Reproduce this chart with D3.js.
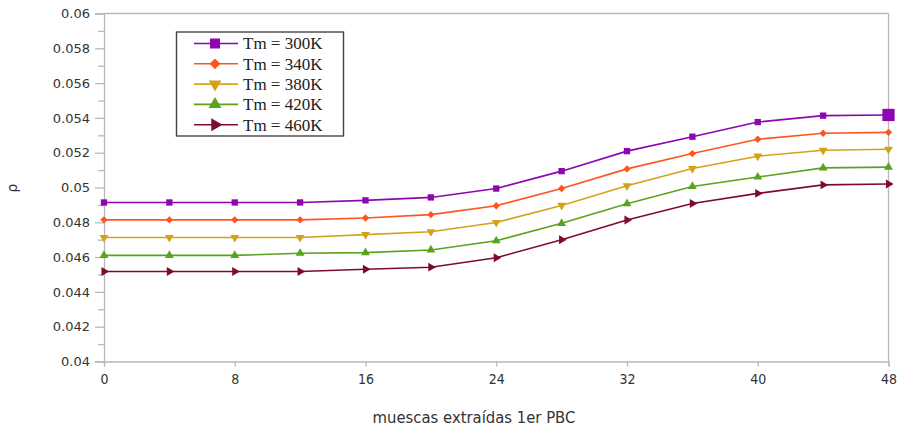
<!DOCTYPE html>
<html><head><meta charset="utf-8">
<script src="https://cdn.jsdelivr.net/npm/d3@7"></script>
<style>html,body{margin:0;padding:0;background:#fff;}svg{display:block;}</style>
</head><body>
<svg id="chart" width="900" height="430"></svg>
<script>
const xValues = [0, 4, 8, 12, 16, 20, 24, 28, 32, 36, 40, 44, 48];
const seriesNames = ["Tm = 300K", "Tm = 340K", "Tm = 380K", "Tm = 420K", "Tm = 460K"];
const tm300 = [0.04914, 0.04914, 0.04914, 0.04914, 0.04926, 0.04943, 0.04994, 0.05094, 0.05209, 0.05292, 0.05376, 0.05413, 0.05417];
const tm340 = [0.04814, 0.04814, 0.04814, 0.04814, 0.04825, 0.04844, 0.04895, 0.04994, 0.05107, 0.05195, 0.05277, 0.05312, 0.05317];
const tm380 = [0.04713, 0.04713, 0.04713, 0.04713, 0.04729, 0.04746, 0.04799, 0.04897, 0.05010, 0.05109, 0.05180, 0.05214, 0.05220];
const tm420 = [0.04610, 0.04610, 0.04610, 0.04622, 0.04626, 0.04641, 0.04694, 0.04794, 0.04907, 0.05006, 0.05060, 0.05113, 0.05117];
const tm460 = [0.04517, 0.04517, 0.04517, 0.04517, 0.04530, 0.04542, 0.04596, 0.04700, 0.04813, 0.04908, 0.04966, 0.05015, 0.05020];
const xTicks = [0, 8, 16, 24, 32, 40, 48];
const yTicks = [0.04, 0.042, 0.044, 0.046, 0.048, 0.05, 0.052, 0.054, 0.056, 0.058, 0.06];
const yTickLabels = ["0.04", "0.042", "0.044", "0.046", "0.048", "0.05", "0.052", "0.054", "0.056", "0.058", "0.06"];
const yMinorTicks = [0.041, 0.043, 0.045, 0.047, 0.049, 0.051, 0.053, 0.055, 0.057, 0.059];
const xTitle = "muescas extraídas 1er PBC";
const yTitle = "ρ";

const allSeries = [tm300, tm340, tm380, tm420, tm460];
const colors = ["#8e06b0", "#ff5422", "#d4a21a", "#5aa31c", "#7d0c2c"];
const symbols = ["square", "diamond", "down", "up", "right"];

const svg = d3.select("#chart");
const L = 104, R = 888.5, T = 13.5, B = 361.5;
const x = d3.scaleLinear().domain([0, 48]).range([L, R]);
const y = d3.scaleLinear().domain([0.04, 0.06]).range([B, T]);
const axisColor = "#b8b8b8";
const textColor = "#333";
const narrow = "'Liberation Sans Narrow', 'DejaVu Sans Condensed', sans-serif";

// frame top & right
svg.append("line").attr("x1", L).attr("x2", R).attr("y1", T).attr("y2", T).attr("stroke", axisColor).attr("stroke-width", 1.3);
svg.append("line").attr("x1", R).attr("x2", R).attr("y1", T).attr("y2", B).attr("stroke", axisColor).attr("stroke-width", 1.3);

// y axis
const yAxis = d3.axisLeft(y).tickValues(yTicks).tickSize(9).tickPadding(5)
  .tickFormat((d, i) => yTickLabels[i]);
const gy = svg.append("g").attr("transform", `translate(${L},0)`).call(yAxis);
gy.select(".domain").attr("stroke", axisColor).attr("stroke-width", 1.3);
gy.selectAll(".tick line").attr("stroke", axisColor).attr("stroke-width", 1.3);
gy.selectAll(".tick text").attr("fill", textColor).style("font-family", "DejaVu Sans").style("font-size", "13px");
const gyMinor = svg.append("g").attr("transform", `translate(${L},0)`)
  .call(d3.axisLeft(y).tickValues(yMinorTicks).tickSize(6).tickFormat(""));
gyMinor.select(".domain").remove();
gyMinor.selectAll(".tick line").attr("stroke", axisColor).attr("stroke-width", 1.3);

// x axis
const xAxis = d3.axisBottom(x).tickValues(xTicks).tickSize(5).tickPadding(8).tickFormat(d3.format("d"));
const gx = svg.append("g").attr("transform", `translate(0,${B})`).call(xAxis);
gx.select(".domain").attr("stroke", axisColor).attr("stroke-width", 1.3);
gx.selectAll(".tick line").attr("stroke", axisColor).attr("stroke-width", 1.3);
gx.selectAll(".tick text").attr("fill", textColor).style("font-family", narrow).style("font-size", "14px");

// titles
svg.append("text").attr("x", 474).attr("y", 423).attr("text-anchor", "middle")
  .attr("fill", textColor).style("font-family", narrow).style("font-size", "16.5px").text(xTitle);
svg.append("text").attr("transform", "translate(17,188) rotate(-90)").attr("text-anchor", "middle")
  .attr("fill", textColor).style("font-family", "DejaVu Sans").style("font-size", "14px").text(yTitle);

function markerPath(k, size) {
  const s = symbols[k];
  if (s === "square") return d3.symbol(d3.symbolSquare, size)();
  if (s === "diamond") return d3.symbol(d3.symbolSquare, size * 0.8)();
  return d3.symbol(d3.symbolTriangle, size)();
}
function markerRot(k) {
  const s = symbols[k];
  if (s === "down") return 180;
  if (s === "right") return 90;
  if (s === "diamond") return 45;
  return 0;
}

const line = d3.line().x((d, i) => x(xValues[i])).y(d => y(d));
allSeries.forEach((vals, k) => {
  svg.append("path").datum(vals).attr("d", line).attr("fill", "none")
    .attr("stroke", colors[k]).attr("stroke-width", 1.6);
  svg.append("g").selectAll("path").data(vals).join("path")
    .attr("d", (d, i) => markerPath(k, (k === 0 && i === vals.length - 1) ? 150 : (k === 0 ? 40 : 34)))
    .attr("transform", (d, i) => `translate(${x(xValues[i])},${y(d)}) rotate(${markerRot(k)})`)
    .attr("fill", colors[k]);
});

// legend
const lg = svg.append("g");
lg.append("rect").attr("x", 176.5).attr("y", 32).attr("width", 167).attr("height", 104)
  .attr("fill", "#fff").attr("stroke", "#444").attr("stroke-width", 1.4);
seriesNames.forEach((name, k) => {
  const cy = 43.5 + k * 20.3;
  lg.append("line").attr("x1", 194).attr("x2", 238).attr("y1", cy).attr("y2", cy)
    .attr("stroke", colors[k]).attr("stroke-width", 1.6);
  lg.append("path").attr("d", markerPath(k, k === 0 ? 100 : 72))
    .attr("transform", `translate(215,${cy}) rotate(${markerRot(k)})`).attr("fill", colors[k]);
  lg.append("text").attr("x", 243).attr("y", cy).attr("dy", "0.35em")
    .attr("fill", "#222").style("font-family", "'Liberation Serif', serif").style("font-size", "17px").text(name);
});
</script>
</body></html>
